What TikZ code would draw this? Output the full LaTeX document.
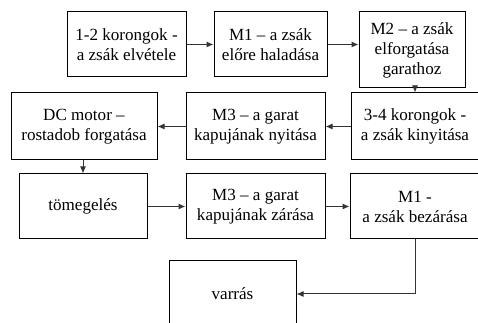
\documentclass[tikz,border=0pt]{standalone}
\usepackage{fontspec}
\setmainfont{Liberation Serif}
\usetikzlibrary{arrows.meta}
\begin{document}
\begin{tikzpicture}[x=0.75pt,y=-0.75pt,line width=0.75pt,>={Latex[length=5.25pt,width=4.5pt]},
  block/.style={draw,align=center,inner sep=0pt,font=\rmfamily\fontsize{12.8}{15}\selectfont},
  link/.style={->,draw=black!80}]
  \useasboundingbox (0,0) rectangle (478,323);
  \clip (0,0) rectangle (478,323);
  % first row
  \node[block,minimum width=89.25pt,minimum height=48.75pt] (elvetel) at (126.5,44.5) {1-2 korongok -\\a zsák elvétele};
  \node[block,minimum width=84.75pt,minimum height=48.75pt] (halad) at (270.5,44.5) {M1 -- a zsák\\előre haladása};
  \node[block,minimum width=79.5pt,minimum height=57pt] (forgat) at (412,50) {M2 -- a zsák\\elforgatása\\garathoz};
  % second row
  \node[block,minimum width=96pt,minimum height=50.25pt] (kinyit) at (415,126.5) {3-4 korongok -\\a zsák kinyitása};
  \node[block,minimum width=104.25pt,minimum height=50.25pt] (nyit) at (255.5,126.5) {M3 -- a garat\\kapujának nyitása};
  \node[block,minimum width=109.5pt,minimum height=50.25pt] (motor) at (84,126.5) {DC motor --\\rostadob forgatása};
  % third row
  \node[block,minimum width=96pt,minimum height=48.75pt] (tomeg) at (83,206.5) {tömegelés};
  \node[block,minimum width=104.25pt,minimum height=48.75pt] (zar) at (255.5,206.5) {M3 -- a garat\\kapujának zárása};
  \node[block,minimum width=97.5pt,minimum height=48.75pt] (bezar) at (415,206.5) {M1 -\\a zsák bezárása};
  % last step
  \node[block,minimum width=95.25pt,minimum height=49.5pt] (varras) at (232.5,294) {varrás};

  \draw[link] (elvetel) -- (halad);
  \draw[link] (halad.east) -- (halad.east -| forgat.west);
  \draw[link] (forgat.south -| kinyit.north) -- (kinyit.north);
  \draw[link] (kinyit) -- (nyit);
  \draw[link] (nyit) -- (motor);
  \draw[link] (motor.south -| tomeg.north) -- (tomeg.north);
  \draw[link] (tomeg) -- (zar);
  \draw[link] (zar) -- (bezar);
  \draw[link] (bezar.south) |- (varras.east);
\end{tikzpicture}
\end{document}
